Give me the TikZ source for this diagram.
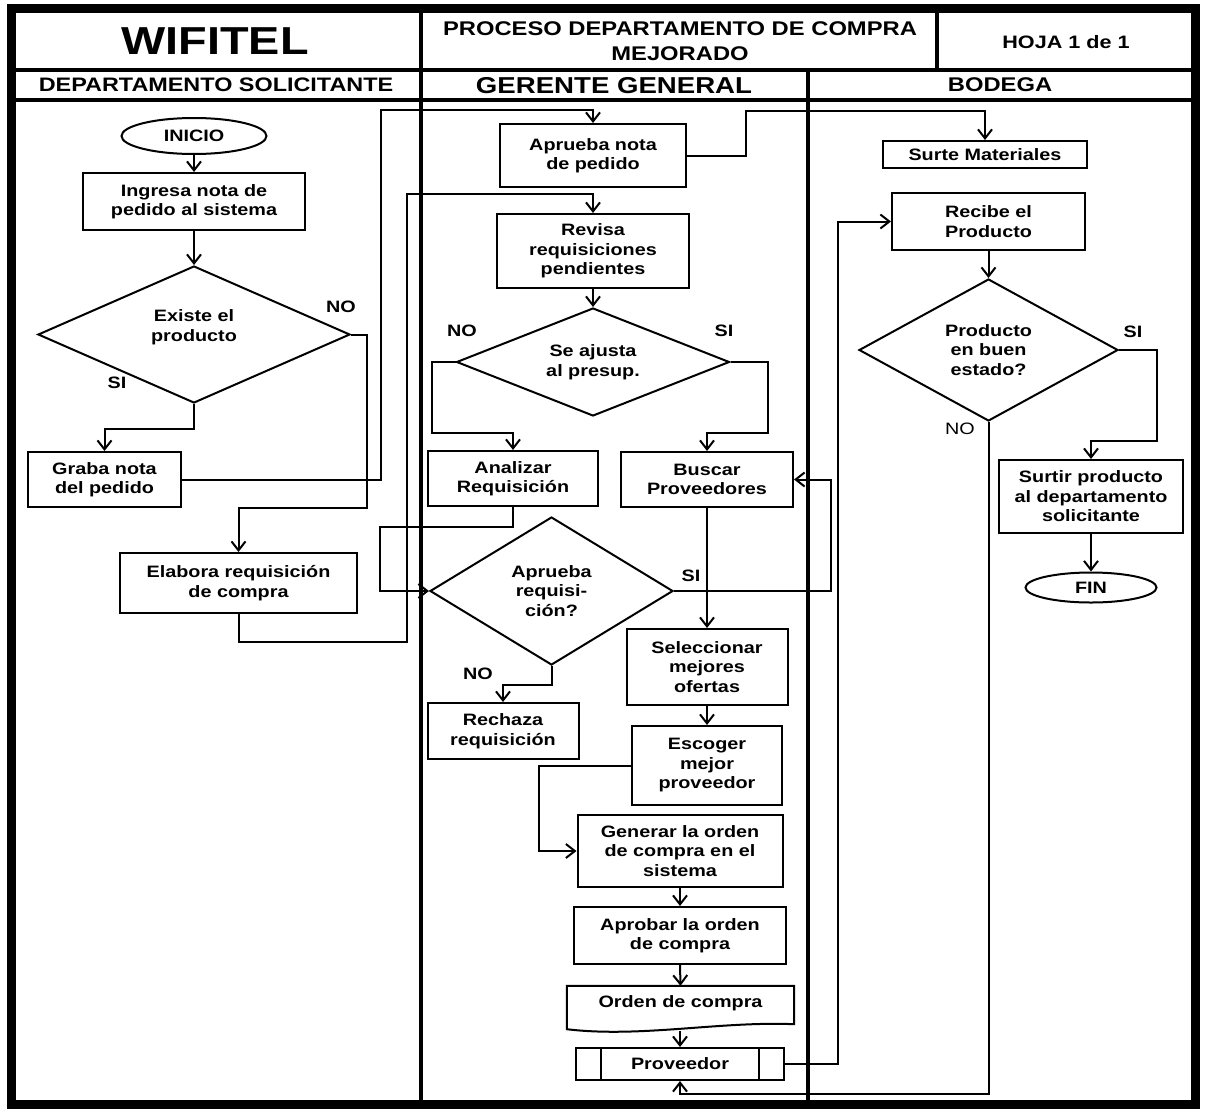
\documentclass[tikz,border=0pt]{standalone}
\usepackage{fontspec}
\setmainfont{Liberation Sans}[FakeStretch=1.2]
\usetikzlibrary{arrows.meta,shapes.geometric,calc}
\newcommand\flowfont{\fontsize{16.5}{19.5}\selectfont\bfseries}
\begin{document}
\begin{tikzpicture}[x=1pt,y=-1pt,line join=miter,
  frameline/.style={line width=9pt},
  laneline/.style={line width=4pt},
  box/.style={draw,line width=2pt,fill=white,rectangle,inner sep=0pt,align=center,font=\flowfont},
  decision/.style={draw,line width=2pt,fill=white,diamond,inner sep=0pt,align=center,font=\flowfont},
  terminal/.style={draw,line width=2pt,fill=white,ellipse,inner sep=0pt,font=\flowfont},
  conn/.style={line width=2pt,-{Straight Barb[length=9pt,width=14pt]}},
  flowlabel/.style={font=\flowfont,inner sep=0pt},
  plainlabel/.style={font=\fontsize{16.5}{19.5}\selectfont,inner sep=0pt},
]
\useasboundingbox (0,0) rectangle (1206,1108);

% ---- frame, header rows and swimlanes
\draw[laneline] (11,70) -- (1195,70);
\draw[laneline] (11,100) -- (1195,100);
\draw[laneline] (421,9) -- (421,1104);
\draw[laneline] (937,9) -- (937,70);
\draw[laneline] (808,70) -- (808,1104);
\draw[frameline] (11.5,9) rectangle (1195.5,1104.5);

\node[inner sep=0pt,font=\fontsize{39}{44}\selectfont\bfseries] (title) at (215,41) {WIFITEL};
\node[inner sep=0pt,align=center,font=\fontsize{19.8}{24.5}\selectfont\bfseries] (process) at (680,41) {PROCESO DEPARTAMENTO DE COMPRA\\MEJORADO};
\node[inner sep=0pt,font=\fontsize{18}{21}\selectfont\bfseries] (sheet) at (1066,42) {HOJA 1 de 1};
\node[inner sep=0pt,font=\fontsize{19.5}{23}\selectfont\bfseries] (laneA) at (216,85) {DEPARTAMENTO SOLICITANTE};
\node[inner sep=0pt,font=\fontsize{23}{27}\selectfont\bfseries] (laneB) at (614,86) {GERENTE GENERAL};
\node[inner sep=0pt,font=\fontsize{19.8}{23}\selectfont\bfseries] (laneC) at (1000,85) {BODEGA};

% ---- requesting department
\node[terminal,minimum width=145pt,minimum height=36pt] (inicio) at (194,136) {INICIO};
\node[box,minimum width=222pt,minimum height=57pt] (ingresa) at (194,201.5) {Ingresa nota de\\pedido al sistema};
\node[decision,minimum width=312pt,minimum height=137pt,aspect=2.28] (existe) at (194,334.5) {};
\node[flowlabel,align=center] (existe-t) at (194,327) {Existe el\\producto};
\node[box,minimum width=153pt,minimum height=55pt] (graba) at (104.5,479.5) {Graba nota\\del pedido};
\node[box,minimum width=237pt,minimum height=60pt] (elabora) at (238.5,583) {Elabora requisición\\de compra};

% ---- general manager
\node[box,minimum width=186pt,minimum height=63pt] (aprueba) at (593,155.5) {Aprueba nota\\de pedido};
\node[box,minimum width=192pt,minimum height=74pt] (revisa) at (593,251) {Revisa\\requisiciones\\pendientes};
\node[decision,minimum width=273pt,minimum height=108pt,aspect=2.5] (ajusta) at (593,362) {Se ajusta\\al presup.};
\node[box,minimum width=170pt,minimum height=55pt] (analizar) at (513,478.5) {Analizar\\Requisición};
\node[box,minimum width=172pt,minimum height=55pt] (buscar) at (707,479.5) {Buscar\\Proveedores};
\node[decision,minimum width=243pt,minimum height=148pt,aspect=1.64] (apreq) at (551.5,591) {Aprueba\\requisi-\\ción?};
\node[box,minimum width=151pt,minimum height=56pt] (rechaza) at (503,731) {Rechaza\\requisición};
\node[box,minimum width=161pt,minimum height=76pt] (selecc) at (707,667) {Seleccionar\\mejores\\ofertas};
\node[box,minimum width=150pt,minimum height=79pt] (escoger) at (707,765.5) {Escoger\\mejor\\proveedor};
\node[box,minimum width=205pt,minimum height=72pt] (generar) at (680,851) {Generar la orden\\de compra en el\\sistema};
\node[box,minimum width=212pt,minimum height=57pt] (aprobar) at (680,935.5) {Aprobar la orden\\de compra};
% document symbol with a wavy lower edge
\node[inner sep=0pt,minimum width=227pt,minimum height=38pt] (orden) at (680.5,1005) {};
\draw[line width=2pt,fill=white] (orden.north west) -- (orden.north east) -- (orden.south east)
  .. controls (720,1021) and (640,1038) .. ($(orden.south west)+(0,5)$) -- cycle;
\node[font=\flowfont,inner sep=0pt] (orden-t) at (680.5,1003) {Orden de compra};
\coordinate (ordenb) at (680,1031);
% predefined process symbol
\node[box,minimum width=208pt,minimum height=32pt] (proveedor) at (680,1064) {Proveedor};
\draw[line width=2pt] ($(proveedor.north west)+(26,0)$) -- ($(proveedor.south west)+(26,0)$);
\draw[line width=2pt] ($(proveedor.north east)+(-26,0)$) -- ($(proveedor.south east)+(-26,0)$);

% ---- warehouse
\node[box,minimum width=204pt,minimum height=27pt] (surte) at (985,154.5) {Surte Materiales};
\node[box,minimum width=193pt,minimum height=57pt] (recibe) at (988.5,221.5) {Recibe el\\Producto};
\node[decision,minimum width=259pt,minimum height=142pt,aspect=1.82] (buen) at (988.5,350) {Producto\\en buen\\estado?};
\node[box,minimum width=184pt,minimum height=73pt] (surtir) at (1091,496.5) {Surtir producto\\al departamento\\solicitante};
\node[terminal,minimum width=131pt,minimum height=30pt] (fin) at (1091,587.5) {FIN};

% ---- branch labels
\node[flowlabel] (l1) at (341,307) {NO};
\node[flowlabel] (l2) at (117,383) {SI};
\node[flowlabel] (l3) at (462,331) {NO};
\node[flowlabel] (l4) at (724,331) {SI};
\node[flowlabel] (l5) at (691,576) {SI};
\node[flowlabel] (l6) at (478,674) {NO};
\node[flowlabel] (l7) at (1133,332) {SI};
\node[plainlabel] (l8) at (960,429) {NO};

% ---- connectors
\draw[conn] (inicio.south) -- (ingresa.north);
\draw[conn] (ingresa.south) -- (existe.north);
\draw[conn] (existe.south) -- ++(0,25) -| (graba.north);
\draw[conn] (existe.east) -| (367,508) -| (elabora.north);
\draw[conn] (graba.east) -| (381,110) -| (aprueba.north);
\draw[conn] (elabora.south) -- ++(0,28) -| (407,194) -| (revisa.north);
\draw[conn] (aprueba.east) -| (746,111) -| (surte.north);
\draw[conn] (revisa.south) -- (ajusta.north);
\draw[conn] (ajusta.west) -| (432,433) -| (analizar.north);
\draw[conn] (ajusta.east) -| (768,433) -| (buscar.north);
\draw[conn] (analizar.south) -- ++(0,20) -| (380,591) -- (apreq.west);
\draw[conn] (apreq.east) -| (831,479.5) -- (buscar.east);
\draw[conn] (apreq.south) -- ++(0,19) -| (rechaza.north);
\draw[conn] (buscar.south) -- (selecc.north);
\draw[conn] (selecc.south) -- (escoger.north);
\draw[conn] (escoger.west) -| (539,851) -- (generar.west);
\draw[conn] (generar.south) -- (aprobar.north);
\draw[conn] (aprobar.south) -- (orden.north);
\draw[conn] (ordenb) -- (proveedor.north);
\draw[conn] (proveedor.east) -| (838,221.5) -- (recibe.west);
\draw[conn] (recibe.south) -- (buen.north);
\draw[conn] (buen.east) -| (1157,441) -| (surtir.north);
\draw[conn] (surtir.south) -- (fin.north);
\draw[conn] (buen.south) |- (680,1094) -- (proveedor.south);
\end{tikzpicture}
\end{document}
